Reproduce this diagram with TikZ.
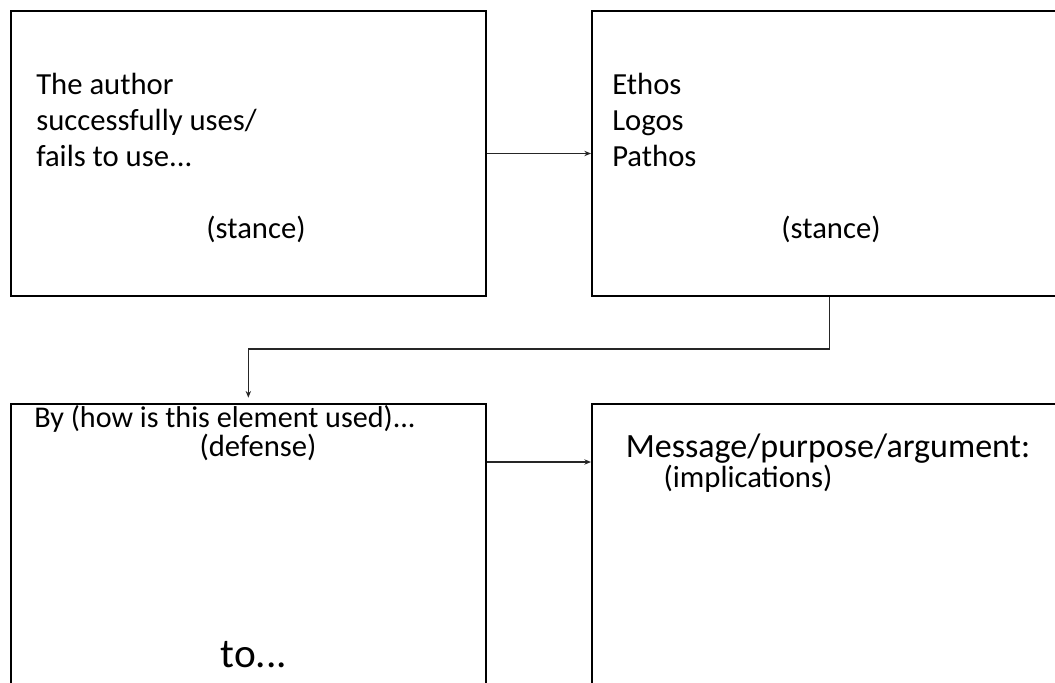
\documentclass[tikz,border=0pt]{standalone}
\usepackage{fontspec}
\setmainfont{Carlito}
\usetikzlibrary{arrows.meta}
\begin{document}
\begin{tikzpicture}[x=0.75pt,y=-0.75pt,
  panel/.style={draw=black,line width=1.5pt,rectangle,minimum width=356pt,minimum height=213.75pt,anchor=north west,inner sep=0pt},
  txt/.style={anchor=base west,inner sep=0pt,font=\fontsize{23pt}{27pt}\selectfont},
  ctxt/.style={anchor=base,inner sep=0pt,font=\fontsize{23pt}{27pt}\selectfont},
  link/.style={draw=black!85,line width=0.8pt,-{Stealth[length=5pt,width=4pt]}}]
\useasboundingbox (0,0) rectangle (1055,682);
\clip (0,0) rectangle (1055,682);
% four boxes
\node[panel] (tl) at (10,10) {};
\node[panel] (tr) at (591,10) {};
\node[panel] (bl) at (10,403) {};
\node[panel] (br) at (591,403) {};
% top left text
\node[txt] (t1) at (36,94) {The author};
\node[txt] (t2) at (36,130) {successfully uses/};
\node[txt] (t3) at (36,166) {fails to use...};
\node[ctxt] (t4) at (256,238) {(stance)};
% top right text
\node[txt] (r1) at (612,94) {Ethos};
\node[txt] (r2) at (612,130) {Logos};
\node[txt] (r3) at (612,166) {Pathos};
\node[ctxt] (r4) at (831,238) {(stance)};
% bottom left text
\node[txt,font=\fontsize{22.6pt}{27pt}\selectfont] (b1) at (34,427) {By (how is this element used)...};
\node[ctxt] (b2) at (258,456) {(defense)};
\node[ctxt,font=\fontsize{31pt}{36pt}\selectfont] (b3) at (254,667) {to...};
% bottom right text
\node[ctxt,font=\fontsize{25.5pt}{30pt}\selectfont] (m1) at (828,457) {Message/purpose/argument:};
\node[ctxt] (m2) at (748,487) {(implications)};
% connectors
\coordinate (bend) at (0,349);
\coordinate (mid) at (0,462);
\draw[link] (tl.east) -- (tr.west);
\draw[link] (tr.south) |- (bend -| bl.north) -- ([yshift=4pt]bl.north);
\draw[link] (mid -| bl.east) -- (mid -| br.west);
\end{tikzpicture}
\end{document}
